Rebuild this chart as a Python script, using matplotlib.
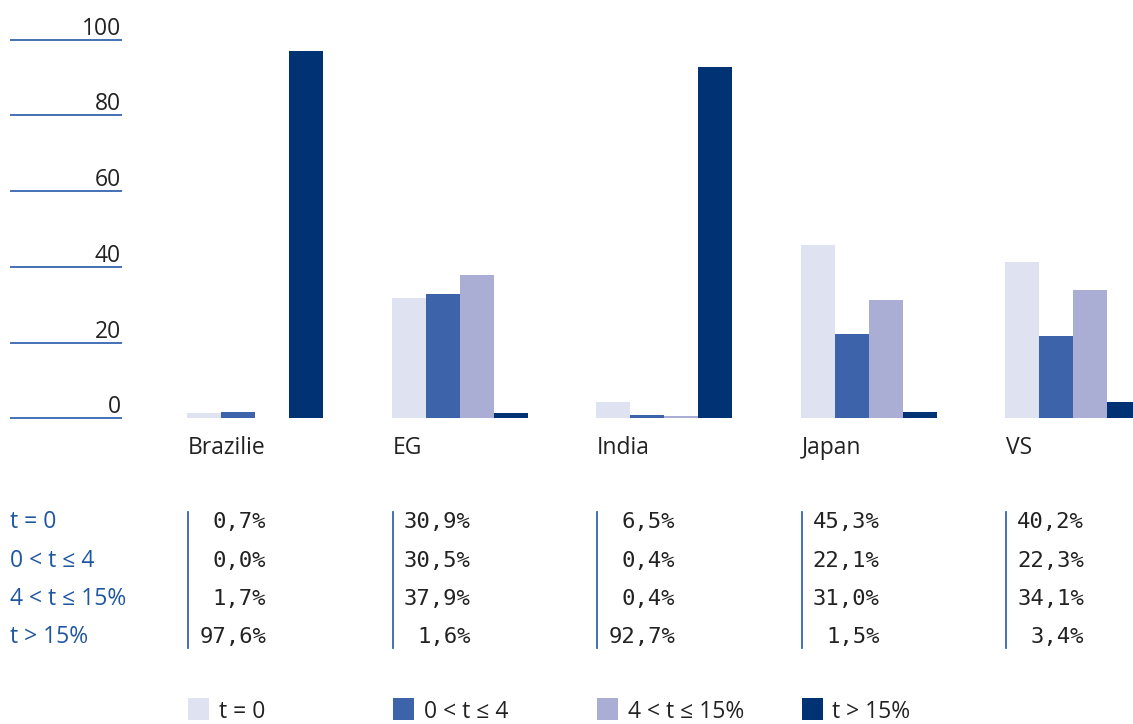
import matplotlib
matplotlib.use("Agg")
import matplotlib.pyplot as plt
import matplotlib.transforms as mtrans
from matplotlib.patches import Rectangle
import numpy as np

plt.rcParams['font.family'] = ['Open Sans', 'DejaVu Sans']

countries = ["Brazilie", "EG", "India", "Japan", "VS"]
series = ["t = 0", "0 < t ≤ 4", "4 < t ≤ 15%", "t > 15%"]
# bar heights as drawn in the chart
bar_t0 = [1.3, 31.9, 4.3, 45.9, 41.4]
bar_t04 = [1.6, 32.9, 0.8, 22.3, 21.8]
bar_t415 = [0.0, 37.9, 0.7, 31.3, 34.0]
bar_t15 = [97.0, 1.5, 92.9, 1.6, 4.3]
# table values
tab_t0 = ["0,7%", "30,9%", "6,5%", "45,3%", "40,2%"]
tab_t04 = ["0,0%", "30,5%", "0,4%", "22,1%", "22,3%"]
tab_t415 = ["1,7%", "37,9%", "0,4%", "31,0%", "34,1%"]
tab_t15 = ["97,6%", "1,6%", "92,7%", "1,5%", "3,4%"]
yticks = [0, 20, 40, 60, 80, 100]

colors = ["#dfe2f1", "#3d64aa", "#aaaed4", "#003274"]
line_blue = "#3566b0"
label_blue = "#1f56a0"
text_col = "#222222"
FS = 16.5

W, H = 1133, 724
fig = plt.figure(figsize=(W / 100, H / 100), dpi=100)
y0_pix, y100_pix = 418.3, 39.7
ax = fig.add_axes([0, 1 - y0_pix / H, 1, (y0_pix - y100_pix) / H])
spacing = 204.5
c0 = 255
ax.set_xlim(-c0 / spacing, (W - c0) / spacing)
ax.set_ylim(0, 100)
ax.axis('off')

bw = 34 / spacing
x = np.arange(len(countries))
allbars = [bar_t0, bar_t04, bar_t415, bar_t15]
for j, vals in enumerate(allbars):
    ax.bar(x + (j - 1.5) * bw, vals, width=bw, color=colors[j], align='center',
           linewidth=0)

# y tick lines and labels
tr_fx = mtrans.blended_transform_factory(fig.transFigure, ax.transData)
for v in yticks:
    ax.plot([10 / W, 122 / W], [v, v], transform=tr_fx, color=line_blue,
            lw=1.3, clip_on=False, solid_capstyle='butt')
    ax.text(121 / W, v, str(v), transform=mtrans.offset_copy(tr_fx, fig=fig, y=5, units='dots'),
            ha='right', va='baseline', fontsize=FS, color=text_col)

# category labels
tr_dy = mtrans.blended_transform_factory(ax.transData, fig.transFigure)
starts = x - 2 * bw
for i, c in enumerate(countries):
    ax.text(starts[i] + 1 / spacing, 1 - 448 / H, c, transform=tr_dy, ha='left', va='center',
            fontsize=FS, color=text_col)

# table
rows_y = [522, 561, 599, 637]
tabs = [tab_t0, tab_t04, tab_t415, tab_t15]
for r, lab in enumerate(series):
    fig.text(10 / W, 1 - rows_y[r] / H, lab, ha='left', va='center', fontsize=FS,
             color=label_blue)
for i in range(len(countries)):
    ax.plot([starts[i] + 1 / spacing] * 2, [1 - 512 / H, 1 - 648 / H], transform=tr_dy,
            color=line_blue, lw=1.3, clip_on=False)
    for r in range(4):
        ax.text(starts[i] + 79 / spacing, 1 - rows_y[r] / H, tabs[r][i], transform=tr_dy,
                ha='right', va='center', fontsize=16, color=text_col,
                family=['DejaVu Sans Mono'])

# legend
for j, lab in enumerate(series):
    xs = starts[j] + 1 / spacing
    ax.add_patch(Rectangle((xs, 1 - 720 / H), 21 / spacing, 22 / H, transform=tr_dy,
                           facecolor=colors[j], edgecolor='none', clip_on=False))
    ax.text(xs + 31 / spacing, 1 - 712 / H, lab, transform=tr_dy, ha='left', va='center',
            fontsize=FS, color=text_col)

fig.savefig("out.png", dpi=100)
